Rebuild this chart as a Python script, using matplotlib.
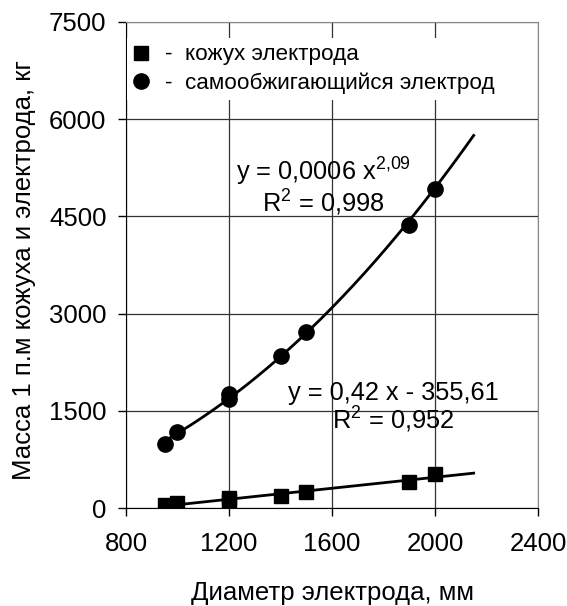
import numpy as np
import matplotlib.pyplot as plt

plt.rcParams['font.family'] = ['Liberation Sans', 'DejaVu Sans']
plt.rcParams['mathtext.fontset'] = 'custom'
plt.rcParams['mathtext.rm'] = 'Liberation Sans'
plt.rcParams['mathtext.it'] = 'Liberation Sans'

# data
d_shell = [950, 1000, 1200, 1200, 1400, 1500, 1900, 2000]
m_shell = [45, 70, 110, 160, 185, 240, 405, 525]

d_elec = [950, 1000, 1200, 1200, 1400, 1500, 1900, 2000]
m_elec = [990, 1175, 1680, 1760, 2340, 2720, 4370, 4920]

x_ticks = [800, 1200, 1600, 2000, 2400]
y_ticks = [0, 1500, 3000, 4500, 6000, 7500]

lbl_shell = "-  кожух электрода"
lbl_elec = "-  самообжигающийся электрод"
eq_lin = "y = 0,42 x - 355,61\nR$^\\mathrm{2}$ = 0,952"
eq_pow = "y = 0,0006 x$^\\mathrm{2{,}09}$\nR$^\\mathrm{2}$ = 0,998"

fig = plt.figure(figsize=(5.67, 6.06), dpi=100)
ax = fig.add_axes([0.2222, 0.1617, 0.7267, 0.802])

# trendlines (excel style: linear and power fits, extended forward)
xs = np.linspace(950, 2150, 200)
k, b = np.polyfit(d_shell, m_shell, 1)
ax.plot(xs, k * xs + b, color="black", lw=2, zorder=3)
p, lna = np.polyfit(np.log(d_elec), np.log(m_elec), 1)
ax.plot(xs, np.exp(lna) * xs ** p, color="black", lw=2, zorder=3)

ax.plot(d_shell, m_shell, "s", color="black", ms=9.5, label=lbl_shell, zorder=4)
ax.plot(d_elec, m_elec, "o", color="black", ms=11, label=lbl_elec, zorder=4)

ax.set_xlim(800, 2400)
ax.set_ylim(0, 7500)
ax.set_xticks(x_ticks)
ax.set_yticks(y_ticks)
ax.tick_params(labelsize=18.5, direction="out", length=6, width=1, colors="black")
ax.tick_params(axis="x", pad=11)
ax.tick_params(axis="y", pad=8)
ax.grid(True, color="#333333", lw=0.9)
ax.set_axisbelow(True)

for s in ["top", "right"]:
    ax.spines[s].set_color("#888888")
for s in ["left", "bottom"]:
    ax.spines[s].set_color("black")

ax.set_xlabel("Диаметр электрода, мм", fontsize=18.5, labelpad=18)
ax.set_ylabel("Масса 1 п.м кожуха и электрода, кг", fontsize=18.5)
ax.yaxis.set_label_coords(-0.218, 0.49)

ax.text(1837, 1543, eq_lin, fontsize=18.3, ha="center", va="center",
        linespacing=1.0, zorder=5)
ax.text(1565, 4961, eq_pow, fontsize=18.3, ha="center", va="center",
        linespacing=1.0, zorder=5)

leg = ax.legend(loc="upper left", bbox_to_anchor=(0, 0.97), fontsize=16.2,
                frameon=True, framealpha=1, edgecolor="none", fancybox=False,
                handlelength=0.65, handletextpad=0.75, borderaxespad=0.05,
                labelspacing=0.3, borderpad=0.3)
leg.set_zorder(6)

fig.savefig("out.png", dpi=100)
